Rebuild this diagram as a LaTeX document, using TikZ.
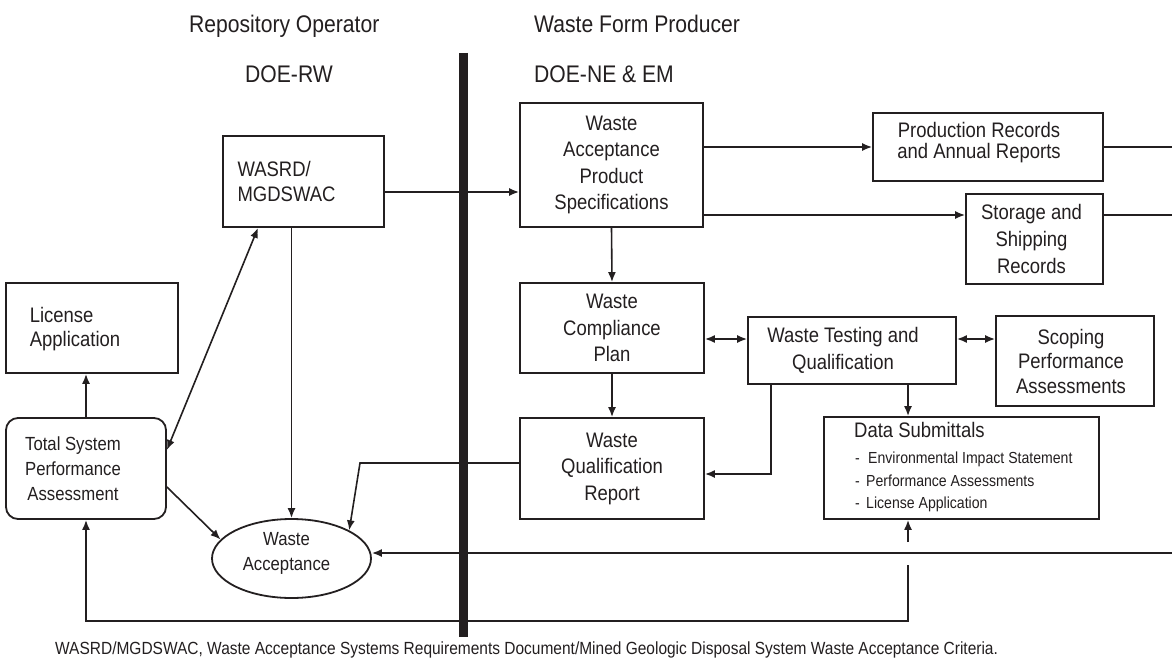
\documentclass[tikz,border=0pt]{standalone}
\usepackage{fontspec}
\setmainfont{Liberation Sans}[FakeStretch=0.88]
\usetikzlibrary{arrows.meta,shapes.geometric}
\definecolor{ink}{HTML}{231F20}

\tikzset{
  panel/.style={draw=ink, line width=1.8pt, inner sep=0pt},
  txt/.style={text=ink, inner sep=0pt, align=center, font=\fontsize{21pt}{26.5pt}\selectfont},
  small/.style={font=\fontsize{19pt}{25pt}\selectfont},
  item/.style={text=ink, inner sep=0pt, font=\fontsize{16pt}{20pt}\selectfont},
  head/.style={text=ink, inner sep=0pt, font=\fontsize{24pt}{28pt}\selectfont},
  foot/.style={text=ink, inner sep=0pt, font=\fontsize{17.6pt}{21pt}\selectfont},
  link/.style={draw=ink, line width=1.6pt},
  arr/.style={link, -{Latex[length=10pt,width=8pt]}},
  dbl/.style={link, {Latex[length=10pt,width=8pt]}-{Latex[length=10pt,width=8pt]}},
}

\begin{document}
\begin{tikzpicture}[x=1pt,y=-1pt]
\useasboundingbox (0,0) rectangle (1172,658);
\fill[white] (0,0) rectangle (1172,658);

% column headings
\node[head, anchor=base west] (hRO)  at (189,33) {Repository Operator};
\node[head, anchor=base west] (hRW)  at (245,83) {DOE-RW};
\node[head, anchor=base west] (hWFP) at (534,33) {Waste Form Producer};
\node[head, anchor=base west] (hNE)  at (534,83) {DOE-NE \& EM};

% dividing bar between the two organisations
\coordinate (barTop) at (463.5,53);
\coordinate (barBot) at (463.5,637);
\draw[ink, line width=9pt] (barTop) -- (barBot);

% repository operator side
\node[panel, minimum width=161pt, minimum height=91pt,
      label={[txt, align=left, font=\fontsize{21pt}{25pt}\selectfont, xshift=-17pt]center:WASRD/\\MGDSWAC}]
      (wasrd) at (303.5,181.5) {};
\node[panel, minimum width=172pt, minimum height=90pt,
      label={[txt, align=left, font=\fontsize{21pt}{24.5pt}\selectfont, xshift=-17pt, yshift=-1pt]center:License\\Application}]
      (la) at (92,328) {};
\node[panel, rounded corners=12pt, minimum width=160pt, minimum height=101pt,
      label={[txt, small, xshift=-13pt]center:Total System\\Performance\\Assessment}]
      (tspa) at (86,468.5) {};
\node[panel, ellipse, minimum width=159pt, minimum height=79pt,
      label={[txt, small, xshift=-5pt, yshift=5pt]center:Waste\\Acceptance}]
      (accept) at (291.5,558.5) {};

% waste form producer side
\node[panel, txt, minimum width=183pt, minimum height=124pt] (waps) at (611.5,165)
      {Waste\\Acceptance\\Product\\Specifications};
\node[panel, txt, minimum width=184pt, minimum height=90pt] (wcp) at (612,328)
      {Waste\\Compliance\\Plan};
\node[panel, txt, minimum width=184pt, minimum height=101pt] (wqr) at (612,468.5)
      {Waste\\Qualification\\Report};
\node[panel, minimum width=208pt, minimum height=67pt,
      label={[txt, font=\fontsize{21pt}{27pt}\selectfont, xshift=-9pt]center:Waste Testing and\\Qualification}]
      (wtq) at (852,350.5) {};
\node[panel, minimum width=158pt, minimum height=90pt,
      label={[txt, font=\fontsize{21pt}{24.5pt}\selectfont, xshift=-4pt]center:Scoping\\Performance\\Assessments}]
      (spa) at (1075,361) {};
\node[panel, minimum width=230pt, minimum height=68pt,
      label={[txt, font=\fontsize{21pt}{21pt}\selectfont, xshift=-9pt, yshift=4pt]center:Production Records\\and Annual Reports}]
      (pr) at (988,147) {};
\node[panel, minimum width=137pt, minimum height=90pt,
      label={[txt, font=\fontsize{21pt}{27pt}\selectfont, xshift=-3pt]center:Storage and\\Shipping\\Records}]
      (ss) at (1034.5,239) {};

% data submittals box and its list
\node[panel, minimum width=275pt, minimum height=102pt] (ds) at (961.5,468) {};
\node[txt, anchor=base west] (dsTitle) at (854,437.5) {Data Submittals};
\node[item, anchor=base west] (dsEIS) at (855,463) {-\hspace{8.3pt}Environmental Impact Statement};
\node[item, anchor=base west] (dsPA)  at (855,486) {-\hspace{6.3pt}Performance Assessments};
\node[item, anchor=base west] (dsLA)  at (855,508) {-\hspace{6.3pt}License Application};

% helper points for connectors
\path ([yshift=-10.5pt]wasrd.east) coordinate (wasrdOut)
      ([xshift=-45.5pt]wasrd.south) coordinate (wasrdLow)
      ([yshift=18.5pt]tspa.east) coordinate (tspaIn)
      ([yshift=-18.5pt]tspa.east) coordinate (tspaOut)
      ([yshift=-50pt]waps.east) coordinate (wapsOut)
      ([yshift=-11pt]wcp.east) coordinate (wcpSide)
      ([yshift=11.5pt]wtq.east) coordinate (wtqSide)
      ([xshift=-81pt]wtq.south) coordinate (wtqDrop)
      ([yshift=-5.5pt]wqr.east) coordinate (wqrIn)
      ([yshift=5.5pt]wqr.west) coordinate (wqrOut);
\coordinate (wqrBend) at (360,463);
\coordinate (edgePR) at (1172,147);
\coordinate (edgeSS) at (1172,215);
\coordinate (edgeWA) at (1172,553);
\coordinate (gapHigh) at (908,542);
\coordinate (gapLow) at (908,565);
\coordinate (loopCorner) at (908,621);

% connectors
\draw[arr] (wasrdOut) -- (wasrdOut -| waps.west);
\draw[arr] (waps.east |- pr.west) -- (pr.west);
\draw[arr] (wapsOut) -- (wapsOut -| ss.west);
\draw[link] (pr.east) -- (edgePR);
\draw[link] (wapsOut -| ss.east) -- (edgeSS);
\draw[arr] (waps.south) -- (wcp.north);
\draw[dbl] (wcpSide) -- (wcpSide -| wtq.west);
\draw[dbl] (wtqSide) -- (wtqSide -| spa.west);
\draw[arr] (wcp.south) -- (wqr.north);
\draw[arr] (wtqDrop) |- (wqrIn);
\draw[arr] (wtq.south -| gapHigh) -- (ds.north -| gapHigh);
\draw[arr] (wqrOut) -- (wqrBend) -- (accept.26);
\draw[arr] (edgeWA) -- (edgeWA -| accept.east);
\draw[arr] (gapLow) -- (loopCorner) -| (tspa.south);
\draw[arr] (gapHigh) -- (gapHigh |- ds.south);
\draw[arr] (tspa.north) -- (tspa.north |- la.south);
\draw[dbl] (wasrdLow) -- (tspaIn);
\draw[arr] (tspaOut) -- (accept.165);
\draw[arr] (accept.north |- wasrd.south) -- (accept.north);

% footnote
\node[foot, anchor=base west] (note) at (55,654)
  {WASRD/MGDSWAC, Waste Acceptance Systems Requirements Document/Mined Geologic Disposal System Waste Acceptance Criteria.};
\end{tikzpicture}
\end{document}
